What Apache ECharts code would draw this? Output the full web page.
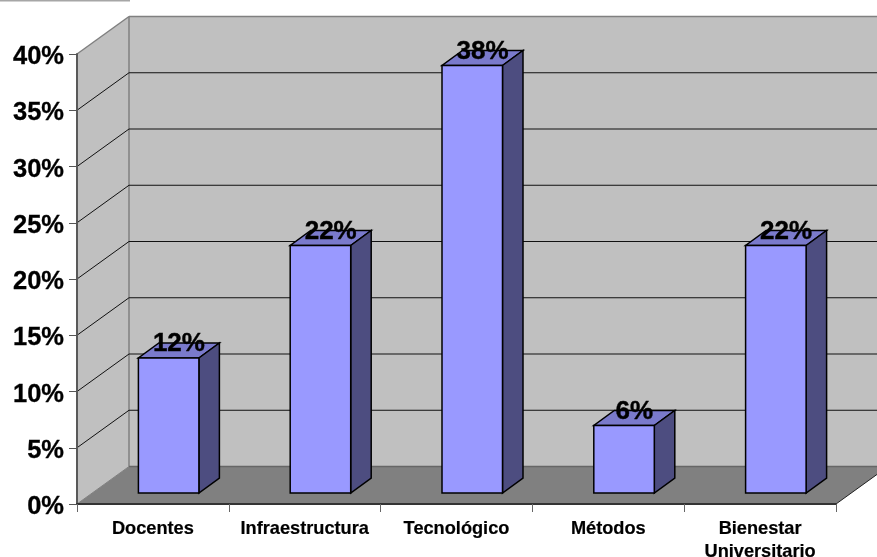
<!DOCTYPE html>
<html><head><meta charset="utf-8">
<style>html,body{margin:0;padding:0;background:#fff}#c{width:877px;height:557px}</style>
<script src="https://cdn.jsdelivr.net/npm/echarts@6/dist/echarts.min.js"></script>
</head><body><div id="c"></div>
<script>
const categories = ['Docentes','Infraestructura','Tecnológico','Métodos','Bienestar\nUniversitario'];
const values = [12,22,38,6,22];
const wallLevels = [0,5,10,15,20,25,30,35,40];

const FONT = '"Liberation Sans", Arial, sans-serif';
const WALL_DX = 52, WALL_DY = -37.5;
const BAR_DX = 15.75, BAR_DY = -11;
const BAR_HALF = 30.25, SIDE_DX = 20.5, SIDE_DY = -15;

function poly(points, fill, stroke, lw) {
  return {type:'polygon', shape:{points}, style:{fill, stroke: stroke||null, lineWidth: lw||0, lineJoin:'miter'}};
}
function line(a, b, stroke, lw) {
  return {type:'line', shape:{x1:a[0],y1:a[1],x2:b[0],y2:b[1]}, style:{stroke, lineWidth:lw}};
}

function renderWall(params, api) {
  const cs = params.coordSys;
  const level = api.value(0);
  const y = api.coord([0, level])[1];
  const L = cs.x, R = cs.x + cs.width;
  const children = [];
  if (params.dataIndex === 0) {
    const top = cs.y, bot = cs.y + cs.height;
    children.push(poly([[L,top],[L+WALL_DX,top+WALL_DY],[L+WALL_DX,bot+WALL_DY],[L,bot]], '#c0c0c0'));
    children.push(poly([[L+WALL_DX,top+WALL_DY],[R+WALL_DX,top+WALL_DY],[R+WALL_DX,bot+WALL_DY],[L+WALL_DX,bot+WALL_DY]], '#c0c0c0'));
    children.push(poly([[L,bot],[L+WALL_DX,bot+WALL_DY],[R+WALL_DX,bot+WALL_DY],[R,bot]], '#808080'));
    children.push(line([L+WALL_DX,top+WALL_DY],[L+WALL_DX,bot+WALL_DY],'#808080',1.5));
    children.push(line([R,bot],[R+WALL_DX,bot+WALL_DY],'#222',1));
  }
  const gray = level === 40 ;
  if (level === 0) {
    children.push(line([L,y],[L+WALL_DX,y+WALL_DY],'#808080',1));
    children.push(line([L+WALL_DX,y+WALL_DY],[R+WALL_DX,y+WALL_DY],'#666',1.5));
  } else {
    children.push(line([L,y],[L+WALL_DX,y+WALL_DY], gray?'#808080':'#111', gray?1.5:1));
    children.push(line([L+WALL_DX,y+WALL_DY],[R+WALL_DX,y+WALL_DY], gray?'#808080':'#111', gray?1.5:1));
  }
  return {type:'group', children};
}

function renderBar(params, api) {
  const i = api.value(0), v = api.value(1);
  const base = api.coord([i, 0]), top = api.coord([i, v]);
  const xl = base[0] + BAR_DX - BAR_HALF, xr = base[0] + BAR_DX + BAR_HALF;
  const yb = base[1] + BAR_DY, yt = top[1] + BAR_DY;
  const edge = '#000';
  return {type:'group', children:[
    poly([[xl,yt],[xr,yt],[xr+SIDE_DX,yt+SIDE_DY],[xl+SIDE_DX,yt+SIDE_DY]], '#7a7acc', edge, 1.5),
    poly([[xr,yt],[xr+SIDE_DX,yt+SIDE_DY],[xr+SIDE_DX,yb+SIDE_DY],[xr,yb]], '#4d4d80', edge, 1.5),
    poly([[xl,yt],[xr,yt],[xr,yb],[xl,yb]], '#9999ff', edge, 1.5),
    {type:'text', z2:10, style:{text:v+'%', x:(xl+xr)/2+SIDE_DX/2, y:yt-14, align:'center', verticalAlign:'middle',
      font:'bold 26px '+FONT, fill:'#000', stroke:'#000', lineWidth:0.4}}
  ]};
}

const chart = echarts.init(document.getElementById('c'), null, {renderer:'canvas'});
chart.setOption({
  animation:false,
  backgroundColor:'#fff',
  graphic:[{type:'rect', shape:{x:0,y:0,width:130,height:1.5}, style:{fill:'#a6a6a6'}, silent:true}],
  grid:{left:77, top:54, width:759, height:450, outerBoundsMode:'none'},
  xAxis:{type:'category', data:categories, z:3,
    axisLine:{lineStyle:{color:'#333', width:2}},
    axisTick:{show:true, length:8, alignWithLabel:false, lineStyle:{color:'#666', width:1}},
    axisLabel:{color:'#000', fontFamily:FONT, fontWeight:'bold', fontSize:18.2, lineHeight:23.5, margin:13, interval:0,
      textBorderColor:'#000', textBorderWidth:0.2}},
  yAxis:{type:'value', min:0, max:40, interval:5, z:3,
    axisLine:{show:true, lineStyle:{color:'#595959', width:2}},
    axisTick:{show:true, length:8, lineStyle:{color:'#555', width:1}},
    splitLine:{show:false},
    axisLabel:{color:'#000', fontFamily:FONT, fontWeight:'bold', fontSize:25.5, margin:13, verticalAlign:'top', lineHeight:6, formatter:'{value}%',
      textBorderColor:'#000', textBorderWidth:0.3}},
  series:[
    {type:'custom', name:'walls', coordinateSystem:'cartesian2d', z:1, silent:true, clip:false,
      encode:{y:0}, data:wallLevels.map(v=>[v]), renderItem:renderWall},
    {type:'custom', name:'bars', coordinateSystem:'cartesian2d', z:4, silent:true, clip:false,
      encode:{x:0,y:1}, data:values.map((v,i)=>[i,v]), renderItem:renderBar}
  ]
});
</script></body></html>
